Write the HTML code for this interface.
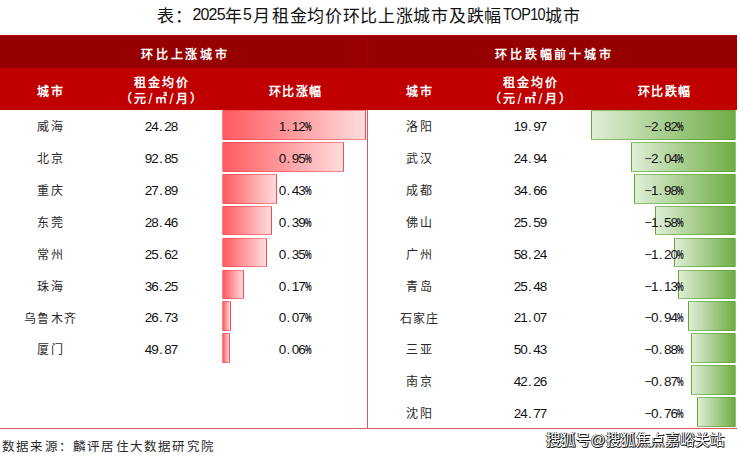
<!DOCTYPE html><html lang="zh-CN"><head><meta charset="utf-8"><style>
*{margin:0;padding:0;box-sizing:border-box}
html,body{width:740px;height:457px;overflow:hidden;background:#fff}
body{position:relative;font-family:"Liberation Sans",sans-serif;color:#111}
.a{position:absolute}
.t{position:absolute;white-space:nowrap;line-height:1}
.title{left:157px;top:7.5px;font-size:17px;color:#111;letter-spacing:0.7px}
.title .l{font-size:16px;letter-spacing:-0.8px;position:relative;top:-1.3px}
.h1{top:35px;height:33px;background:#960000}
.h2{top:68px;height:42px;background:#c00000}
.hw{color:#fff;font-weight:bold;font-size:13px;text-align:center}
.sl{font-size:14px;font-weight:normal;line-height:0;position:relative;top:0.5px}
.cn{font-size:12px;text-align:center;color:#2a2a2a;letter-spacing:1.4px;padding-left:1.4px}
.num{font-size:13.5px;text-align:center;color:#111}
.num i{font-style:normal;display:inline-block;width:6.5px;overflow:visible}
.num i.pc{transform:scaleX(.55);transform-origin:0 0;font-weight:bold}
.num i.mn{transform:translate(-3px,-1.4px) scaleX(1.9);transform-origin:0 0;color:#444}
.rb{border:1px solid rgba(255,50,65,.5);border-radius:1px;background:linear-gradient(to right,#ff5a60,#ffdcdc)}
.gb{border:1px solid rgba(90,160,45,.6);border-radius:1px;background:linear-gradient(to left,#6fad45,#dfeed6)}
.foot{left:2px;top:441.2px;font-size:12.5px;color:#2a2a2a;letter-spacing:1.2px}
.wm{left:546px;top:433.4px;font-size:14.5px;letter-spacing:0.82px;color:#fff;text-shadow:1px 1px 0 #1a1a1a,0.7px 0 0 #2a2a2a,-0.7px 0 0 #444,0 0.7px 0 #2a2a2a}
</style></head><body>
<div class="t title">表：<span class="l">2025</span>年<span class="l" style="letter-spacing:0.6px;margin-left:0.5px">5</span><span style="margin-right:1.6px">月</span>租金均价环比上涨城市及跌幅<span class="l" style="display:inline-block;width:42.5px;margin-left:0.8px;transform:scaleX(.9);transform-origin:0 0">TOP10</span>城市</div>
<div class="a h1" style="left:0;width:737px"></div>
<div class="a" style="left:367px;top:35px;width:1px;height:33px;background:#b00000"></div>
<div class="a h2" style="left:0;width:737px"></div>
<div class="a" style="left:0;top:35px;width:737px;height:1px;background:#ad0000"></div>
<div class="t hw" style="left:0px;width:368px;top:48.8px;font-size:12px;letter-spacing:2.8px;padding-left:2.8px">环比上涨城市</div>
<div class="t hw" style="left:0px;width:100px;top:85.8px;font-size:12px;letter-spacing:1.8px;padding-left:1.8px">城市</div>
<div class="t hw" style="left:100px;width:122px;top:77px;font-size:12px;letter-spacing:1.9px;padding-left:1.9px">租金均价</div>
<div class="t hw" style="left:100px;width:122px;top:93px;font-size:12px;letter-spacing:2.5px;padding-left:2.5px">（元<span class="sl">/</span>㎡<span class="sl">/</span>月）</div>
<div class="t hw" style="left:222px;width:146px;top:85.8px;font-size:12px;letter-spacing:1.4px;padding-left:1.4px">环比涨幅</div>
<div class="t hw" style="left:369px;width:368px;top:48.8px;font-size:12px;letter-spacing:2.8px;padding-left:2.8px">环比跌幅前十城市</div>
<div class="t hw" style="left:369px;width:100px;top:85.8px;font-size:12px;letter-spacing:1.8px;padding-left:1.8px">城市</div>
<div class="t hw" style="left:469px;width:122px;top:77px;font-size:12px;letter-spacing:1.9px;padding-left:1.9px">租金均价</div>
<div class="t hw" style="left:469px;width:122px;top:93px;font-size:12px;letter-spacing:2.5px;padding-left:2.5px">（元<span class="sl">/</span>㎡<span class="sl">/</span>月）</div>
<div class="t hw" style="left:591px;width:146px;top:85.8px;font-size:12px;letter-spacing:1.4px;padding-left:1.4px">环比跌幅</div>
<div class="a rb" style="left:221.8px;top:110.20px;width:144.7px;height:29.7px"></div>
<div class="a rb" style="left:221.8px;top:142.06px;width:122.7px;height:29.7px"></div>
<div class="a rb" style="left:221.8px;top:173.92px;width:55.6px;height:29.7px"></div>
<div class="a rb" style="left:221.8px;top:205.78px;width:50.4px;height:29.7px"></div>
<div class="a rb" style="left:221.8px;top:237.64px;width:45.2px;height:29.7px"></div>
<div class="a rb" style="left:221.8px;top:269.50px;width:22.0px;height:29.7px"></div>
<div class="a rb" style="left:221.8px;top:301.36px;width:9.0px;height:29.7px"></div>
<div class="a rb" style="left:221.8px;top:333.22px;width:7.8px;height:29.7px"></div>
<div class="a gb" style="left:591.0px;top:110.20px;width:144.8px;height:29.7px"></div>
<div class="a gb" style="left:631.0px;top:142.06px;width:104.8px;height:29.7px"></div>
<div class="a gb" style="left:634.1px;top:173.92px;width:101.7px;height:29.7px"></div>
<div class="a gb" style="left:654.7px;top:205.78px;width:81.1px;height:29.7px"></div>
<div class="a gb" style="left:674.2px;top:237.64px;width:61.6px;height:29.7px"></div>
<div class="a gb" style="left:677.8px;top:269.50px;width:58.0px;height:29.7px"></div>
<div class="a gb" style="left:687.5px;top:301.36px;width:48.3px;height:29.7px"></div>
<div class="a gb" style="left:690.6px;top:333.22px;width:45.2px;height:29.7px"></div>
<div class="a gb" style="left:691.1px;top:365.08px;width:44.7px;height:29.7px"></div>
<div class="a gb" style="left:696.8px;top:396.94px;width:39.0px;height:29.7px"></div>
<div class="t cn" style="left:0px;width:100px;top:121.4px">威海</div>
<div class="t num" style="left:100px;width:122px;top:120.2px"><i>2</i><i>4</i><i>.</i><i>2</i><i>8</i></div>
<div class="t num" style="left:222px;width:146px;top:120.2px"><i>1</i><i>.</i><i>1</i><i>2</i><i class="pc">%</i></div>
<div class="t cn" style="left:0px;width:100px;top:153.3px">北京</div>
<div class="t num" style="left:100px;width:122px;top:152.1px"><i>9</i><i>2</i><i>.</i><i>8</i><i>5</i></div>
<div class="t num" style="left:222px;width:146px;top:152.1px"><i>0</i><i>.</i><i>9</i><i>5</i><i class="pc">%</i></div>
<div class="t cn" style="left:0px;width:100px;top:185.1px">重庆</div>
<div class="t num" style="left:100px;width:122px;top:183.9px"><i>2</i><i>7</i><i>.</i><i>8</i><i>9</i></div>
<div class="t num" style="left:222px;width:146px;top:183.9px"><i>0</i><i>.</i><i>4</i><i>3</i><i class="pc">%</i></div>
<div class="t cn" style="left:0px;width:100px;top:217.0px">东莞</div>
<div class="t num" style="left:100px;width:122px;top:215.8px"><i>2</i><i>8</i><i>.</i><i>4</i><i>6</i></div>
<div class="t num" style="left:222px;width:146px;top:215.8px"><i>0</i><i>.</i><i>3</i><i>9</i><i class="pc">%</i></div>
<div class="t cn" style="left:0px;width:100px;top:248.8px">常州</div>
<div class="t num" style="left:100px;width:122px;top:247.6px"><i>2</i><i>5</i><i>.</i><i>6</i><i>2</i></div>
<div class="t num" style="left:222px;width:146px;top:247.6px"><i>0</i><i>.</i><i>3</i><i>5</i><i class="pc">%</i></div>
<div class="t cn" style="left:0px;width:100px;top:280.7px">珠海</div>
<div class="t num" style="left:100px;width:122px;top:279.5px"><i>3</i><i>6</i><i>.</i><i>2</i><i>5</i></div>
<div class="t num" style="left:222px;width:146px;top:279.5px"><i>0</i><i>.</i><i>1</i><i>7</i><i class="pc">%</i></div>
<div class="t cn" style="left:0px;width:100px;top:312.6px">乌鲁木齐</div>
<div class="t num" style="left:100px;width:122px;top:311.4px"><i>2</i><i>6</i><i>.</i><i>7</i><i>3</i></div>
<div class="t num" style="left:222px;width:146px;top:311.4px"><i>0</i><i>.</i><i>0</i><i>7</i><i class="pc">%</i></div>
<div class="t cn" style="left:0px;width:100px;top:344.4px">厦门</div>
<div class="t num" style="left:100px;width:122px;top:343.2px"><i>4</i><i>9</i><i>.</i><i>8</i><i>7</i></div>
<div class="t num" style="left:222px;width:146px;top:343.2px"><i>0</i><i>.</i><i>0</i><i>6</i><i class="pc">%</i></div>
<div class="t cn" style="left:369px;width:100px;top:121.4px">洛阳</div>
<div class="t num" style="left:469px;width:122px;top:120.2px"><i>1</i><i>9</i><i>.</i><i>9</i><i>7</i></div>
<div class="t num" style="left:591px;width:146px;top:120.2px"><i class="mn">-</i><i>2</i><i>.</i><i>8</i><i>2</i><i class="pc">%</i></div>
<div class="t cn" style="left:369px;width:100px;top:153.3px">武汉</div>
<div class="t num" style="left:469px;width:122px;top:152.1px"><i>2</i><i>4</i><i>.</i><i>9</i><i>4</i></div>
<div class="t num" style="left:591px;width:146px;top:152.1px"><i class="mn">-</i><i>2</i><i>.</i><i>0</i><i>4</i><i class="pc">%</i></div>
<div class="t cn" style="left:369px;width:100px;top:185.1px">成都</div>
<div class="t num" style="left:469px;width:122px;top:183.9px"><i>3</i><i>4</i><i>.</i><i>6</i><i>6</i></div>
<div class="t num" style="left:591px;width:146px;top:183.9px"><i class="mn">-</i><i>1</i><i>.</i><i>9</i><i>8</i><i class="pc">%</i></div>
<div class="t cn" style="left:369px;width:100px;top:217.0px">佛山</div>
<div class="t num" style="left:469px;width:122px;top:215.8px"><i>2</i><i>5</i><i>.</i><i>5</i><i>9</i></div>
<div class="t num" style="left:591px;width:146px;top:215.8px"><i class="mn">-</i><i>1</i><i>.</i><i>5</i><i>8</i><i class="pc">%</i></div>
<div class="t cn" style="left:369px;width:100px;top:248.8px">广州</div>
<div class="t num" style="left:469px;width:122px;top:247.6px"><i>5</i><i>8</i><i>.</i><i>2</i><i>4</i></div>
<div class="t num" style="left:591px;width:146px;top:247.6px"><i class="mn">-</i><i>1</i><i>.</i><i>2</i><i>0</i><i class="pc">%</i></div>
<div class="t cn" style="left:369px;width:100px;top:280.7px">青岛</div>
<div class="t num" style="left:469px;width:122px;top:279.5px"><i>2</i><i>5</i><i>.</i><i>4</i><i>8</i></div>
<div class="t num" style="left:591px;width:146px;top:279.5px"><i class="mn">-</i><i>1</i><i>.</i><i>1</i><i>3</i><i class="pc">%</i></div>
<div class="t cn" style="left:369px;width:100px;top:312.6px">石家庄</div>
<div class="t num" style="left:469px;width:122px;top:311.4px"><i>2</i><i>1</i><i>.</i><i>0</i><i>7</i></div>
<div class="t num" style="left:591px;width:146px;top:311.4px"><i class="mn">-</i><i>0</i><i>.</i><i>9</i><i>4</i><i class="pc">%</i></div>
<div class="t cn" style="left:369px;width:100px;top:344.4px">三亚</div>
<div class="t num" style="left:469px;width:122px;top:343.2px"><i>5</i><i>0</i><i>.</i><i>4</i><i>3</i></div>
<div class="t num" style="left:591px;width:146px;top:343.2px"><i class="mn">-</i><i>0</i><i>.</i><i>8</i><i>8</i><i class="pc">%</i></div>
<div class="t cn" style="left:369px;width:100px;top:376.3px">南京</div>
<div class="t num" style="left:469px;width:122px;top:375.1px"><i>4</i><i>2</i><i>.</i><i>2</i><i>6</i></div>
<div class="t num" style="left:591px;width:146px;top:375.1px"><i class="mn">-</i><i>0</i><i>.</i><i>8</i><i>7</i><i class="pc">%</i></div>
<div class="t cn" style="left:369px;width:100px;top:408.1px">沈阳</div>
<div class="t num" style="left:469px;width:122px;top:406.9px"><i>2</i><i>4</i><i>.</i><i>7</i><i>7</i></div>
<div class="t num" style="left:591px;width:146px;top:406.9px"><i class="mn">-</i><i>0</i><i>.</i><i>7</i><i>6</i><i class="pc">%</i></div>
<div class="a" style="left:367px;top:110px;width:1px;height:319px;background:#d9585e"></div>
<div class="a" style="left:0;top:428px;width:737px;height:1px;background:#dc5a64"></div>
<div class="t foot">数据来源：麟评居住大数据研究院</div>
<div class="t wm">搜狐号@搜狐焦点嘉峪关站</div>
</body></html>
